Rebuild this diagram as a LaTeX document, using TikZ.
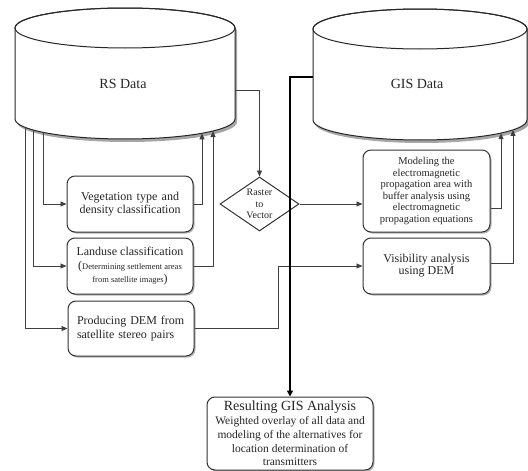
\documentclass[tikz,border=0pt]{standalone}
\usepackage{fontspec}
\setmainfont{Liberation Serif}
\usetikzlibrary{shapes.geometric,shadows,arrows.meta}
\begin{document}
\begin{tikzpicture}[x=1pt,y=-1pt,
  box/.style={draw=black!80, line width=1pt, rounded corners=8pt, fill=white,
    drop shadow={shadow xshift=1.5pt,shadow yshift=-1.5pt,fill=black!50,opacity=.6},
    inner sep=0pt, text=black!85},
  conn/.style={draw=black!75, line width=0.9pt},
  arr/.style={conn,-{Triangle[length=6pt,width=5pt]}},
  thickarr/.style={draw=black, line width=2.4pt,-{Triangle[length=6pt,width=6pt]}},
  cylline/.style={draw=black!85, line width=1pt},
  f12/.style={font=\fontsize{12}{13}\selectfont},
  ]
\useasboundingbox (0,0) rectangle (528,471);

% ---- RS Data cylinder
\begin{scope}[shift={(2,3)}]
\fill[black!35] (15,28) -- (15,119) arc[start angle=180,end angle=360,x radius=110pt,y radius=20pt] -- (235,28) arc[start angle=0,end angle=180,x radius=110pt,y radius=20pt] -- cycle;
\end{scope}
\draw[cylline, fill=white] (15,28) -- (15,119) arc[start angle=180,end angle=360,x radius=110pt,y radius=20pt] -- (235,28) arc[start angle=0,end angle=180,x radius=110pt,y radius=20pt] -- cycle;
\draw[cylline] (125,28) ellipse[x radius=110pt, y radius=20pt];
\node[font=\fontsize{14}{14}\selectfont, text=black!85] (rs) at (123,84) {RS Data};

% ---- GIS Data cylinder
\begin{scope}[shift={(2,3)}]
\fill[black!35] (313,29) -- (313,120) arc[start angle=180,end angle=360,x radius=107pt,y radius=20pt] -- (527,29) arc[start angle=0,end angle=180,x radius=107pt,y radius=20pt] -- cycle;
\end{scope}
\draw[cylline, fill=white] (313,29) -- (313,120) arc[start angle=180,end angle=360,x radius=107pt,y radius=20pt] -- (527,29) arc[start angle=0,end angle=180,x radius=107pt,y radius=20pt] -- cycle;
\draw[cylline] (420,29) ellipse[x radius=107pt, y radius=20pt];
\node[font=\fontsize{14}{14}\selectfont, text=black!85] (gis) at (417,84) {GIS Data};

% ---- cylinder attachment points
\coordinate (rsR) at (235,90);
\coordinate (rsB1) at (25,127.3);
\coordinate (rsB2) at (33,130);
\coordinate (rsB3) at (43,132.3);
\coordinate (rsA1) at (202,133.3);
\coordinate (rsA2) at (213,131);
\coordinate (gisL) at (313,77);
\coordinate (gisA1) at (501,133.1);
\coordinate (gisA2) at (513,129.9);

% ---- left boxes
\node[box, minimum width=126pt, minimum height=56pt, align=center, f12] (veg) at (130,204)
  {\makebox[98pt][s]{Vegetation type and}\\density classification};
\node[box, minimum width=126pt, minimum height=56pt, align=center, f12] (land) at (130,266)
  {Landuse classification\\[1pt]({\fontsize{8.5}{12}\selectfont Determining settlement areas}\\{\fontsize{8.5}{12}\selectfont from satellite images})};
\node[box, minimum width=126pt, minimum height=55pt, align=left, text width=108pt, font=\fontsize{12}{14}\selectfont] (dem) at (131,328.5)
  {Producing DEM from\\satellite stereo pairs};

% ---- right boxes
\node[box, minimum width=127pt, minimum height=82pt, align=center, font=\fontsize{10.5}{11.5}\selectfont] (model) at (426.5,191)
  {Modeling the\\electromagnetic\\propagation area with\\buffer analysis using\\electromagnetic\\propagation equations};
\node[box, minimum width=127pt, minimum height=56pt, align=center, font=\fontsize{12}{12}\selectfont] (vis) at (426.5,266)
  {Visibility analysis\\using DEM};

% ---- result box
\node[box, minimum width=166pt, minimum height=73pt, align=center, font=\fontsize{11.5}{13.7}\selectfont] (res) at (290,433.5)
  {{\fontsize{14}{14}\selectfont Resulting GIS Analysis}\\Weighted overlay of all data and\\modeling of the alternatives for\\location determination of\\transmitters};

% ---- diamond
\node[diamond, draw=black!80, line width=1pt, fill=white, minimum width=79pt, minimum height=54pt, inner sep=0pt] (rv) at (259.5,204) {};
\node[align=center, font=\fontsize{10}{11.5}\selectfont, text=black!85, inner sep=0pt] (rvt) at (rv) {Raster\\to\\Vector};

% ---- connectors
\draw[arr] (rsR) -| (rv.north);
\draw[arr] (rsB3) |- (veg.west);
\draw[arr] (rsB2) |- (land.west);
\draw[arr] (rsB1) |- (dem.west);
\draw[arr] (veg.east) -| (rsA1);
\draw[arr] (land.east) -| (rsA2);
\coordinate (demK) at (278,266);
\draw[arr] (dem.east) -| (demK) -- (vis.west);
\draw[arr] (rv.east) -- (rv.east -| model.west);
\draw[arr] ([yshift=-17pt]model.east) -| (gisA1);
\draw[arr] ([yshift=3pt]vis.east) -| (gisA2);
\draw[thickarr] (gisL) -| (res.north);
\end{tikzpicture}
\end{document}
